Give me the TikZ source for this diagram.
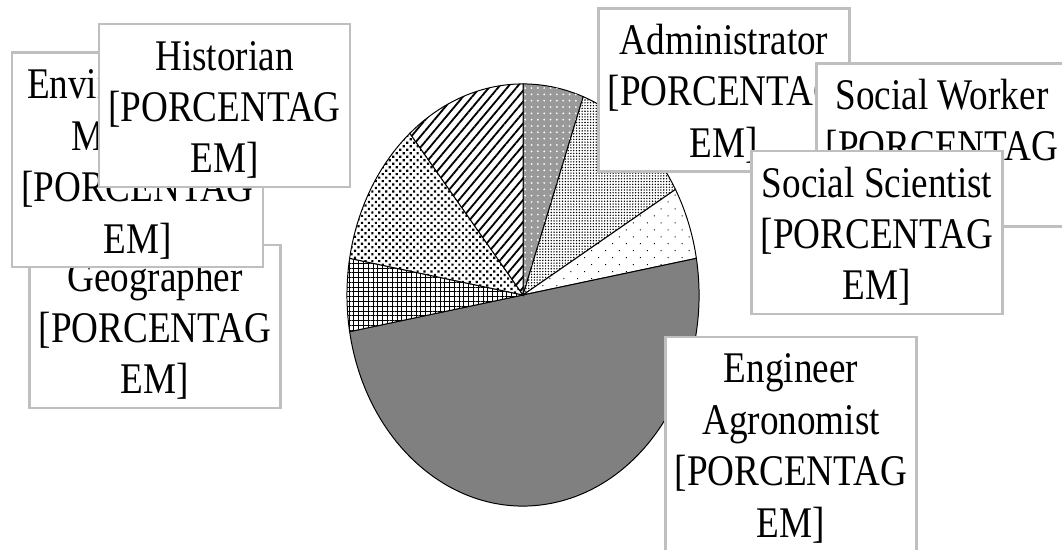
\documentclass[tikz,border=0pt]{standalone}
\usepackage{fontspec}
\setmainfont{Liberation Serif}[FakeStretch=0.85]
\usetikzlibrary{patterns,patterns.meta}

\newcommand{\topstrut}{\rule{0pt}{1.15cm}}
\newcommand{\botstrut}{\rule[-0.35cm]{0pt}{0.35cm}}

\tikzset{
  labelbox/.style={draw=gray!50, line width=1.8pt, fill=white, inner sep=0pt,
    minimum width=6.28cm, minimum height=4.08cm, align=center,
    font=\fontsize{31.1pt}{36.6pt}\selectfont},
  tallbox/.style={minimum height=5.36cm},
  slice/.style={draw=black, line width=0.7pt},
  adminfill/.style={fill=gray!80, postaction={pattern={Dots[radius=0.7pt, distance=4.5pt]}, pattern color=white}},
  socwfill/.style={fill=white, postaction={pattern={Dots[radius=0.55pt, distance=2pt]}, pattern color=black}},
  socsfill/.style={fill=white, postaction={pattern={Dots[radius=0.5pt, distance=7pt, angle=45]}, pattern color=black}},
  engfill/.style={fill=gray},
  geofill/.style={fill=white, postaction={pattern={Hatch[angle=0, distance=3.4pt, line width=0.45pt]}, pattern color=black}},
  envfill/.style={fill=white, postaction={pattern={Dots[radius=1.1pt, distance=3.5pt, angle=45]}, pattern color=black}},
  histfill/.style={fill=white, postaction={pattern={Lines[angle=50, distance=5pt, line width=1.3pt]}, pattern color=black}},
}

\begin{document}
\begin{tikzpicture}[x=0.025cm, y=0.025cm]

        \useasboundingbox (0,0) rectangle (1062,550);
        \clip (0,0) rectangle (1062,550);

        \begin{scope}[shift={(523,255)}, x=4.4cm, y=5.275cm]
          \filldraw[slice, adminfill] (0,0) -- (90:1)   arc[start angle=90,   end angle=70,   radius=1] -- cycle;
          \filldraw[slice, socwfill]  (0,0) -- (70:1)   arc[start angle=70,   end angle=30,   radius=1] -- cycle;
          \filldraw[slice, socsfill]  (0,0) -- (30:1)   arc[start angle=30,   end angle=10,   radius=1] -- cycle;
          \filldraw[slice, engfill]   (0,0) -- (10:1)   arc[start angle=10,   end angle=-170, radius=1] -- cycle;
          \filldraw[slice, geofill]   (0,0) -- (-170:1) arc[start angle=-170, end angle=-190, radius=1] -- cycle;
          \filldraw[slice, envfill]   (0,0) -- (170:1)  arc[start angle=170,  end angle=130,  radius=1] -- cycle;
          \filldraw[slice, histfill]  (0,0) -- (130:1)  arc[start angle=130,  end angle=90,   radius=1] -- cycle;
        \end{scope}

        \begin{scope}[every node/.style={labelbox}]
          \node (geo)   at (155,223.5) {\topstrut Geographer\\{[}PORCENTAG\\EM]\botstrut};
          \node[tallbox] (env) at (137.5,390) {\topstrut Environmental\\Manager\\{[}PORCENTAG\\EM]\botstrut};
          \node (hist)  at (224.5,444.5) {\topstrut Historian\\{[}PORCENTAG\\EM]\botstrut};
          \node (admin) at (724,460) {\topstrut Administrator\\{[}PORCENTAG\\EM]\botstrut};
          \node (socw)  at (942,405) {\topstrut Social Worker\\{[}PORCENTAG\\EM]\botstrut};
          \node (socs)  at (877,317.5) {\topstrut Social Scientist\\{[}PORCENTAG\\EM]\botstrut};
          \node[tallbox] (eng) at (791,106) {\topstrut Engineer\\Agronomist\\{[}PORCENTAG\\EM]\botstrut};
        \end{scope}

      \end{tikzpicture}
\end{document}
